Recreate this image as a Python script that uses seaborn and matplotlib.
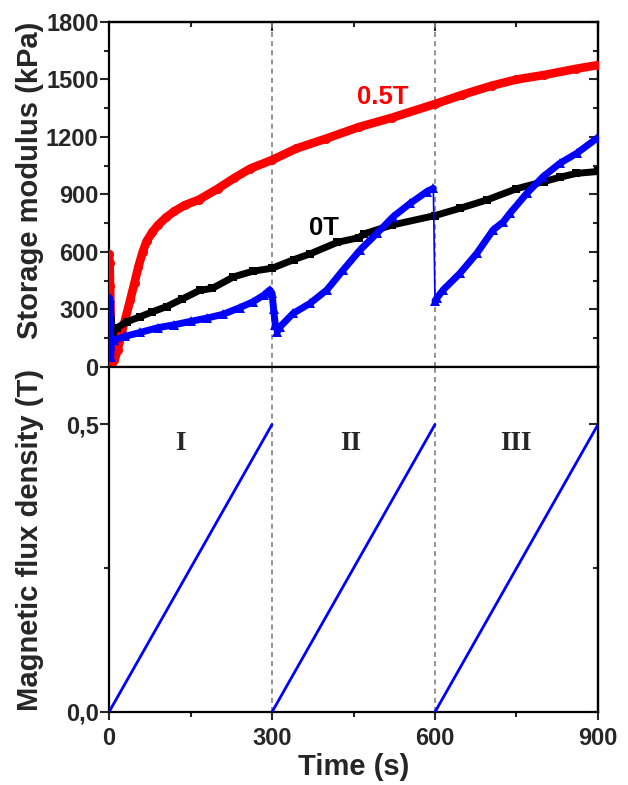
import matplotlib
matplotlib.use("Agg")
import matplotlib.pyplot as plt
import seaborn as sns
from matplotlib.ticker import FixedLocator, MultipleLocator

# ---------------- data ----------------
red_t = [0, 1, 2, 4, 6, 10, 16, 23, 30, 39, 47, 54, 62, 69, 80, 90, 105, 120, 140,
         165, 200, 230, 260, 300, 345, 400, 460, 520, 600, 650, 705, 750, 800, 860, 900]
red_g = [590, 540, 420, 120, 20, 35, 90, 176, 250, 350, 440, 523, 600, 655, 705, 740, 780,
         812, 845, 872, 930, 985, 1035, 1080, 1140, 1192, 1252, 1300, 1372, 1420, 1468,
         1500, 1523, 1556, 1575]

black_t = [0, 2, 4, 7, 15, 33, 57, 80, 106, 135, 167, 190, 229, 265, 300, 340, 370, 420,
           460, 470, 520, 600, 646, 695, 750, 800, 830, 860, 900]
black_g = [150, 330, 240, 175, 205, 236, 262, 288, 315, 355, 400, 410, 470, 500, 515, 560,
           590, 650, 675, 695, 740, 790, 828, 871, 930, 967, 990, 1010, 1020]

blue_t1 = [0, 1, 2, 3, 5, 10, 30, 57, 90, 120, 150, 180, 210, 241, 265, 285, 296, 300, 303,
           306, 310, 315, 339, 370, 401, 431, 462, 493, 523, 554, 585, 597]
blue_g1 = [130, 360, 250, 50, 140, 140, 160, 180, 205, 220, 238, 255, 275, 310, 340, 375,
           402, 385, 300, 220, 185, 210, 280, 332, 402, 506, 610, 697, 784, 853, 915, 932]
blue_t2 = [600, 603, 615, 646, 677, 707, 726, 738, 769, 799, 830, 861, 898]
blue_g2 = [345, 358, 402, 489, 593, 715, 758, 802, 906, 993, 1063, 1115, 1193]

field_t = [[0, 300], [300, 600], [600, 900]]
field_b = [[0.0, 0.5], [0.0, 0.5], [0.0, 0.5]]

boundaries = [300, 600]
stage_labels = ["I", "II", "III"]
stage_t = [131, 445, 749]
stage_b = 0.4675

g_ticks = [0, 300, 600, 900, 1200, 1500, 1800]
t_ticks = [0, 300, 600, 900]
b_ticks = [0.0, 0.5]
b_ticklabels = ["0,0", "0,5"]

# ---------------- style ----------------
sns.set_style("ticks")
plt.rcParams['font.family'] = ['Liberation Sans', 'DejaVu Sans']
plt.rcParams['font.weight'] = 'bold'
plt.rcParams['axes.labelweight'] = 'bold'
plt.rcParams['axes.linewidth'] = 1.6
plt.rcParams['axes.edgecolor'] = 'black'

fig = plt.figure(figsize=(6.28, 7.85), dpi=100)
ax1 = fig.add_axes([0.1736, 0.5325, 0.7786, 0.4395])
ax2 = fig.add_axes([0.1736, 0.093, 0.7786, 0.4395])

for ax in (ax1, ax2):
    for x in boundaries:
        ax.axvline(x, color='#808080', lw=1.2, ls=(0, (3, 2.5)), zorder=1)

line_kw = dict(sort=False, estimator=None, solid_capstyle='round', solid_joinstyle='round')
sns.lineplot(x=red_t, y=red_g, ax=ax1, color='#ff0000', lw=6.2, zorder=3,
             marker='o', markersize=6.5, markeredgewidth=0, **line_kw)
sns.lineplot(x=black_t, y=black_g, ax=ax1, color='black', lw=5, zorder=4,
             marker='s', markersize=5.5, markeredgewidth=0, **line_kw)
sns.lineplot(x=blue_t1, y=blue_g1, ax=ax1, color='#0000ff', lw=5, zorder=5,
             marker='^', markersize=6.5, markeredgewidth=0, **line_kw)
sns.lineplot(x=[blue_t1[-1], blue_t2[0]], y=[blue_g1[-1], blue_g2[0]], ax=ax1,
             color='#0000ff', lw=1.2, zorder=5, sort=False, estimator=None)
sns.lineplot(x=blue_t2, y=blue_g2, ax=ax1, color='#0000ff', lw=5, zorder=5,
             marker='^', markersize=6.5, markeredgewidth=0, **line_kw)

for tt, bb in zip(field_t, field_b):
    sns.lineplot(x=tt, y=bb, ax=ax2, color='#0000ff', lw=2, zorder=3,
                 sort=False, estimator=None)

# ---------------- top axes ----------------
ax1.set_xlim(0, 900)
ax1.set_ylim(0, 1800)
ax1.set_xticks(t_ticks)
ax1.tick_params(axis='x', which='both', bottom=False, labelbottom=False)
ax1.yaxis.set_major_locator(FixedLocator(g_ticks))
ax1.yaxis.set_minor_locator(MultipleLocator(150))
ax1.tick_params(axis='y', which='major', direction='out', length=6.5, width=1.5,
                labelsize=17, pad=1)
ax1.tick_params(axis='y', which='minor', direction='out', length=3.5, width=1.5)
ax1.set_xlabel('')
ax1.set_ylabel('Storage modulus (kPa)', fontsize=21)
ax1.yaxis.set_label_coords(-0.162, 0.54)
ax1.yaxis.label.set_va('center')

sx = ax1.secondary_xaxis('top')
sx.set_xticks(t_ticks)
sx.xaxis.set_minor_locator(MultipleLocator(150))
sx.tick_params(which='major', direction='in', length=6.5, width=1.5, labeltop=False)
sx.tick_params(which='minor', direction='in', length=3.5, width=1.5)
sy = ax1.secondary_yaxis('right')
sy.set_yticks(g_ticks)
sy.yaxis.set_minor_locator(MultipleLocator(150))
sy.tick_params(which='major', direction='in', length=6.5, width=1.5, labelright=False)
sy.tick_params(which='minor', direction='in', length=3.5, width=1.5)

ax1.text(504, 1409, '0.5T', color='#ff0000', fontsize=18.5, fontweight='bold',
         ha='center', va='center')
ax1.text(396, 725, '0T', color='black', fontsize=18.5, fontweight='bold',
         ha='center', va='center')

# ---------------- bottom axes ----------------
ax2.set_xlim(0, 900)
ax2.set_ylim(0, 0.6)
ax2.set_xticks(t_ticks)
ax2.xaxis.set_minor_locator(MultipleLocator(150))
ax2.tick_params(axis='x', which='major', direction='out', length=6, width=1.5,
                labelsize=17, pad=5)
ax2.tick_params(axis='x', which='minor', direction='out', length=3.5, width=1.5)
ax2.set_yticks(b_ticks)
ax2.set_yticklabels(b_ticklabels)
ax2.yaxis.set_minor_locator(FixedLocator([0.25]))
ax2.tick_params(axis='y', which='major', direction='out', length=6.5, width=1.5,
                labelsize=17, pad=1)
ax2.tick_params(axis='y', which='minor', direction='out', length=3.5, width=1.5)
ax2.set_xlabel('Time (s)', fontsize=21)
ax2.xaxis.set_label_coords(0.5, -0.159)
ax2.xaxis.label.set_va('center')
ax2.set_ylabel('Magnetic flux density (T)', fontsize=21)
ax2.yaxis.set_label_coords(-0.162, 0.5)
ax2.yaxis.label.set_va('center')

sy2 = ax2.secondary_yaxis('right')
sy2.set_yticks(b_ticks)
sy2.yaxis.set_minor_locator(FixedLocator([0.25]))
sy2.tick_params(which='major', direction='in', length=6.5, width=1.5, labelright=False)
sy2.tick_params(which='minor', direction='in', length=3.5, width=1.5)

for lab, tt in zip(stage_labels, stage_t):
    ax2.text(tt, stage_b, lab, fontsize=19.5, fontweight='bold',
             family=['Liberation Serif', 'DejaVu Serif'], ha='center', va='center')

for ax in (ax1, ax2):
    for s in ax.spines.values():
        s.set_linewidth(1.6)
        s.set_visible(True)

fig.savefig('out.png', dpi=100)
